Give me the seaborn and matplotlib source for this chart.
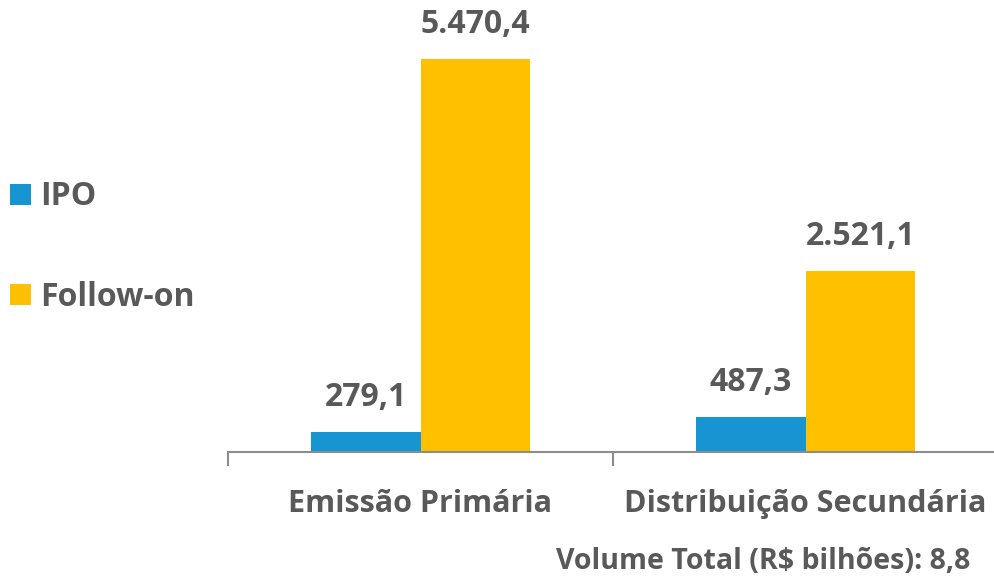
import pandas as pd
import matplotlib.pyplot as plt
import seaborn as sns

# dados
categorias = ['Emissão Primária', 'Distribuição Secundária']
ipo = [279.1, 487.3]
follow_on = [5470.4, 2521.1]
series = ['IPO', 'Follow-on']
cores = ['#1795d3', '#ffc000']
rotulo_total = 'Volume Total (R$ bilhões): 8,8'

df = pd.DataFrame({
    'categoria': categorias * 2,
    'tipo': ['IPO'] * len(categorias) + ['Follow-on'] * len(categorias),
    'valor': ipo + follow_on,
})

sns.set_style('white')
plt.rcParams['font.family'] = ['Open Sans', 'DejaVu Sans']
cinza = '#595959'

fig = plt.figure(figsize=(9.94, 5.8), dpi=100)
ax = fig.add_axes([228 / 994, 128 / 580, 770 / 994, 452 / 580])

sns.barplot(data=df, x='categoria', y='valor', hue='tipo', hue_order=series,
            palette=cores, width=0.57, saturation=1, linewidth=0, ax=ax, legend=True)

ax.set_ylim(0, 6292)
ax.set_xlim(-0.5, 1.5)

# rótulos dos valores
for cont in ax.containers:
    ax.bar_label(cont, labels=[f'{v:,.1f}'.replace(',', 'X').replace('.', ',').replace('X', '.')
                               for v in cont.datavalues],
                 padding=13, fontsize=23, fontweight='bold', color=cinza)

sns.despine(ax=ax, left=True, right=True, top=True)
ax.spines['bottom'].set_color('#8c8c8c')
ax.spines['bottom'].set_linewidth(1.5)
ax.set_yticks([])
ax.set_xlabel('')
ax.set_ylabel('')
ax.tick_params(axis='x', which='major', bottom=False, pad=23, labelsize=22, labelcolor=cinza)
for t in ax.get_xticklabels():
    t.set_fontweight('bold')
ax.set_xticks([-0.5, 0.5, 1.5], minor=True)
ax.tick_params(axis='x', which='minor', bottom=True, length=10, width=1.5,
               color='#8c8c8c', direction='out')

# legenda à esquerda
handles, labels = ax.get_legend_handles_labels()
ax.get_legend().remove()
fig.legend(handles, labels, loc='center left', bbox_to_anchor=(10 / 994, 1 - 247 / 580),
           frameon=False, borderpad=0, borderaxespad=0,
           handlelength=0.65, handleheight=0.65, handletextpad=0.3, labelspacing=2.1,
           prop={'size': 23, 'weight': 'bold'}, labelcolor=cinza)

fig.text(970 / 994, 4 / 580, rotulo_total, ha='right', va='bottom',
         fontsize=20.5, fontweight='bold', color=cinza)

fig.savefig('out.png', dpi=100)
